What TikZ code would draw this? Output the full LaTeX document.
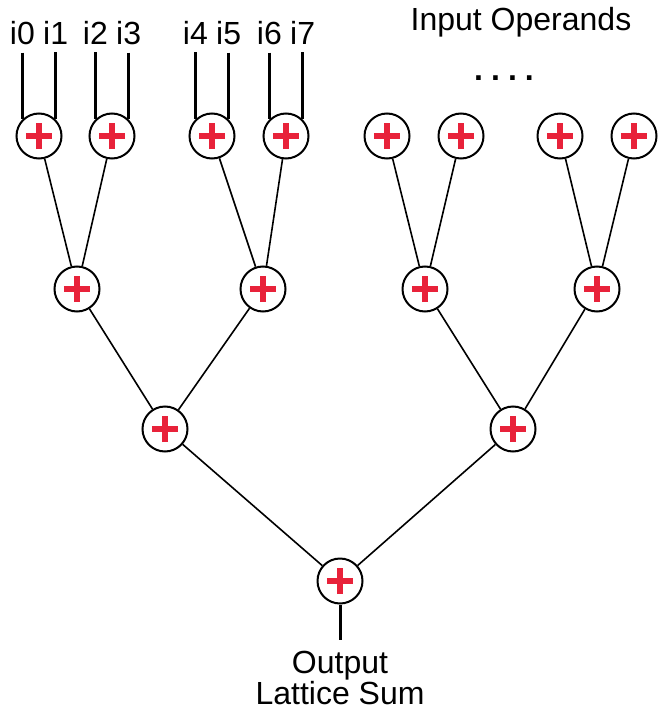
\documentclass[tikz,border=0pt]{standalone}
\usepackage{fontspec}
\setmainfont{Liberation Sans}

\definecolor{plusred}{RGB}{232,34,58}

\tikzset{
  adder/.style={draw, circle, line width=1pt, minimum size=22.5pt, inner sep=0pt,
    path picture={
      \draw[plusred, line width=2.6pt]
        ([xshift=-6.6pt]path picture bounding box.center) -- ([xshift=6.6pt]path picture bounding box.center)
        ([yshift=-6.6pt]path picture bounding box.center) -- ([yshift=6.6pt]path picture bounding box.center);
    }},
  lbl/.style={font=\fontsize{16}{15.5}\selectfont, inner sep=0pt},
  wire/.style={line width=1.5pt},
  link/.style={line width=0.8pt}
}

\begin{document}
\begin{tikzpicture}[x=0.5pt, y=-0.5pt]

    \useasboundingbox (0,0) rectangle (658,711); % page size

    % first row of adders
    \foreach \n/\x in {1/39,2/112,3/212,4/286,5/387,6/461,7/560,8/634}
        \node[adder] (a\n) at (\x,136) {};

    % second row
    \foreach \n/\x in {1/77,2/263,3/425,4/597}
        \node[adder] (b\n) at (\x,289) {};

    % third row
    \node[adder] (c1) at (165,429) {};
    \node[adder] (c2) at (513,429) {};

    \node[adder] (sum) at (340,581) {}; % final adder

    % operands i0..i7 into the first four adders
    \foreach \k/\n/\side in {0/1/west,1/1/east,2/2/west,3/2/east,4/3/west,5/3/east,6/4/west,7/4/east}{
        \node[lbl, inner ysep=3.5pt, anchor=base] (i\k) at (a\n.north \side |- 0,45) {i\k};
        \draw[wire] (i\k.south) -- (a\n.north \side);
    }

    \node[lbl] (ops) at (521,22) {Input Operands};
    \node[lbl, font=\fontsize{16}{15.5}\selectfont\bfseries] (dots) at (504,78)
        {.\kern4pt.\kern4pt.\kern4pt.};

    % tree links
    \foreach \c/\p in {a1/b1,a2/b1,a3/b2,a4/b2,a5/b3,a6/b3,a7/b4,a8/b4,
                       b1/c1,b2/c1,b3/c2,b4/c2,c1/sum,c2/sum}
        \draw[link] (\c) -- (\p);

    % result (base = last line)
    \node[lbl, align=center, anchor=base] (out) at (340,704) {Output\\Lattice Sum};
    \draw[wire] (sum) -- ([yshift=5pt]out.north);

\end{tikzpicture}
\end{document}
